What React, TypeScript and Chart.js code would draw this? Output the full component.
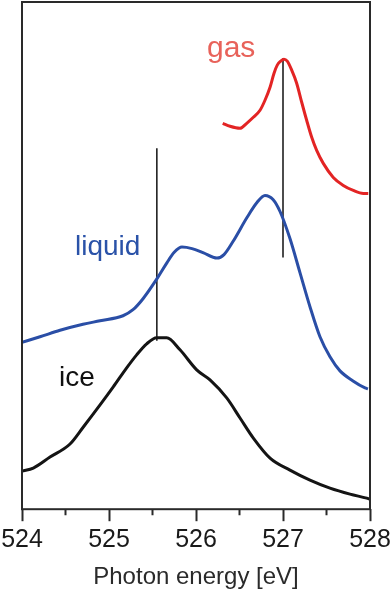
import React, { useEffect, useRef } from "react";
import { Chart, registerables } from "chart.js";

Chart.register(...registerables);

// Photon energy [eV] and intensity (arbitrary units)
const gasEnergy = [526.307, 526.391, 526.506, 526.583, 526.659, 526.736, 526.793, 526.851, 526.897, 526.934, 526.974, 527.011, 527.049, 527.1, 527.157, 527.215, 527.272, 527.33, 527.387, 527.463, 527.578, 527.693, 527.808, 527.923, 527.98];
const gasIntensity = [385, 382, 380, 385, 391, 398, 408, 421, 435, 443, 447, 449, 447, 438, 425, 406, 388, 371, 358, 345, 331, 323, 318, 315, 315];

const liquidEnergy = [524.0, 524.207, 524.437, 524.701, 524.897, 525.161, 525.276, 525.391, 525.552, 525.667, 525.747, 525.839, 525.954, 526.08, 526.241, 526.322, 526.425, 526.586, 526.701, 526.793, 526.885, 526.966, 527.08, 527.195, 527.31, 527.425, 527.54, 527.655, 527.805, 527.943, 527.977];
const liquidIntensity = [166.5, 172, 178.5, 184.5, 188, 193, 199, 210, 230, 246, 256, 261.5, 260, 256, 250.5, 254, 267, 291, 306, 313, 309, 297, 270, 236, 202, 172, 152, 138, 128, 121, 120];

const iceEnergy = [524.0, 524.13, 524.322, 524.552, 524.705, 524.897, 525.049, 525.203, 525.318, 525.433, 525.548, 525.663, 525.816, 526.008, 526.161, 526.353, 526.506, 526.659, 526.851, 527.08, 527.31, 527.54, 527.77, 527.962, 528.0];
const iceIntensity = [38, 41, 52, 65, 82, 104, 122, 141, 154, 165, 171, 171, 159, 139, 129, 111, 91, 71, 51, 39, 29, 21, 15, 11, 10];

// vertical reference markers
const markerEnergy = [525.55, 527.0];
const markerTop = [360, 450];
const markerBottom = [168, 251];

// labels
const labelTexts = ["gas", "liquid", "ice"];
const labelEnergy = [526.126, 524.609, 524.425];
const labelIntensity = [451, 254, 123];
const labelColors = ["#e8625a", "#2a52a8", "#111111"];
const labelSizes = [30, 28, 28];

const xTicks = [524, 525, 526, 527, 528];
const xMinorTicks = [524.5, 525.5, 526.5, 527.5];

const FONT = "'Liberation Sans', Arial, Helvetica, sans-serif";

const zip = (xs: number[], ys: number[]) => xs.map((x, i) => ({ x, y: ys[i] }));

const framePlugin = {
  id: "frame",
  afterDatasetsDraw(chart: any) {
    const { ctx, chartArea, scales } = chart;
    const xs = scales.x;
    const ys = scales.y;
    ctx.save();
    ctx.textBaseline = "alphabetic";
    ctx.textAlign = "left";
    labelTexts.forEach((t, i) => {
      ctx.font = `${labelSizes[i]}px ${FONT}`;
      ctx.fillStyle = labelColors[i];
      ctx.fillText(t, xs.getPixelForValue(labelEnergy[i]), ys.getPixelForValue(labelIntensity[i]));
    });
    ctx.strokeStyle = "#2a2a2a";
    ctx.lineWidth = 2;
    ctx.strokeRect(chartArea.left, chartArea.top, chartArea.right - chartArea.left, chartArea.bottom - chartArea.top);
    ctx.beginPath();
    xMinorTicks.forEach((v) => {
      const px = xs.getPixelForValue(v);
      ctx.moveTo(px, chartArea.bottom);
      ctx.lineTo(px, chartArea.bottom + 6);
    });
    ctx.stroke();
    ctx.restore();
  },
};

export default function App() {
  const ref = useRef<HTMLCanvasElement | null>(null);
  useEffect(() => {
    if (!ref.current) return;
    const markerDatasets = markerEnergy.map((e, i) => ({
      data: [
        { x: e, y: markerTop[i] },
        { x: e, y: markerBottom[i] },
      ],
      borderColor: "#111111",
      borderWidth: 1.5,
      pointRadius: 0,
      tension: 0,
    }));
    const curve = (xs: number[], ys: number[], color: string) => ({
      data: zip(xs, ys),
      borderColor: color,
      borderWidth: 3,
      pointRadius: 0,
      cubicInterpolationMode: "monotone" as const,
    });
    const chart = new Chart(ref.current, {
      type: "line",
      data: {
        datasets: [
          curve(gasEnergy, gasIntensity, "#e32424"),
          curve(liquidEnergy, liquidIntensity, "#2a4ea6"),
          curve(iceEnergy, iceIntensity, "#141414"),
          ...markerDatasets,
        ],
      },
      options: {
        animation: false,
        responsive: false,
        devicePixelRatio: 1,
        layout: { padding: { left: 22, right: 21, top: 2, bottom: 6 } },
        plugins: { legend: { display: false }, tooltip: { enabled: false } },
        scales: {
          x: {
            type: "linear",
            min: 524,
            max: 528,
            afterBuildTicks: (s: any) => {
              s.ticks = xTicks.map((v) => ({ value: v }));
            },
            afterFit: (s: any) => {
              s.paddingLeft = 0;
              s.paddingRight = 0;
            },
            grid: {
              drawOnChartArea: false,
              drawTicks: true,
              tickLength: 12,
              tickColor: "#2a2a2a",
              tickWidth: 2,
            },
            border: { display: false },
            ticks: {
              color: "#1a1a1a",
              font: { family: FONT, size: 25 },
              padding: 4,
              maxRotation: 0,
              autoSkip: false,
            },
            title: {
              display: true,
              text: "Photon energy [eV]",
              color: "#2a2a2a",
              font: { family: FONT, size: 24 },
              padding: { top: 4, bottom: 0 },
            },
          },
          y: {
            type: "linear",
            min: 0,
            max: 506,
            display: false,
          },
        },
      },
      plugins: [framePlugin],
    });
    return () => chart.destroy();
  }, []);
  return (
    <div style={{ position: "absolute", left: 0, top: 0, width: 391, height: 598, background: "#fff" }}>
      <canvas ref={ref} width={391} height={598} />
    </div>
  );
}
